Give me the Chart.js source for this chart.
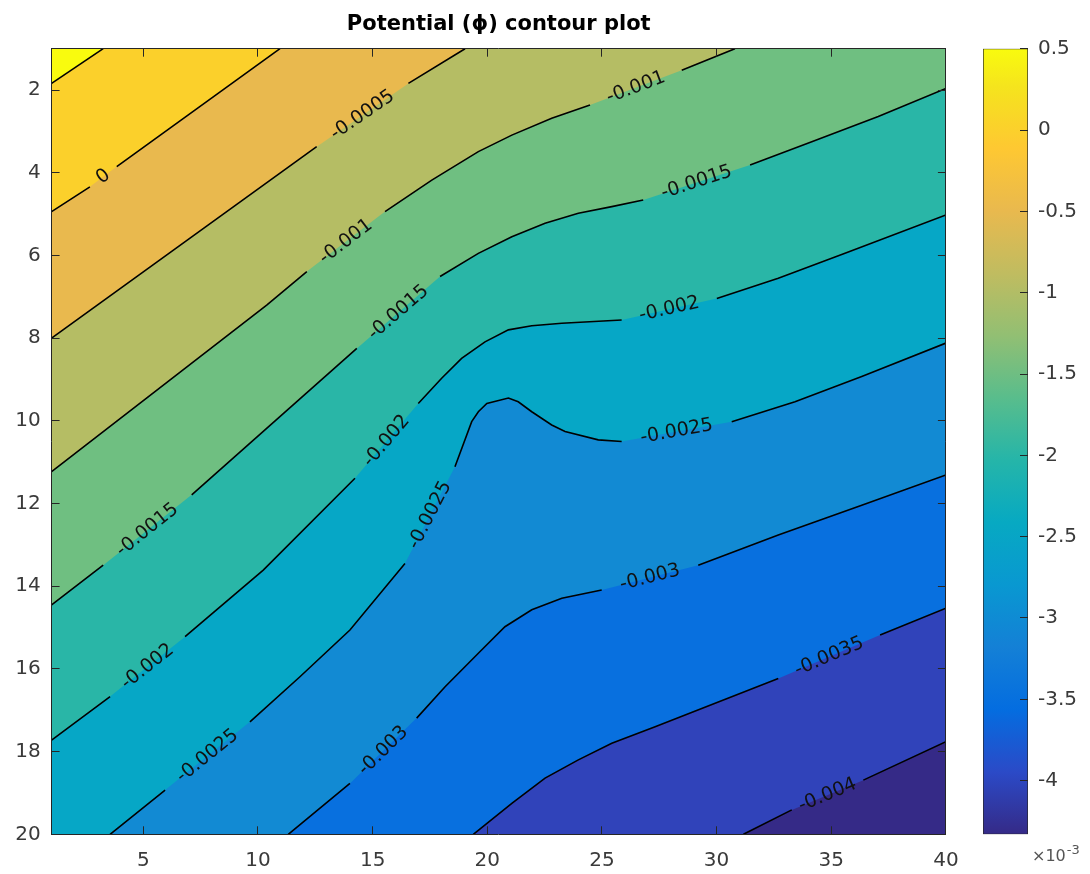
<!DOCTYPE html>
<html>
<head>
<meta charset="utf-8">
<title>Potential contour plot</title>
<script src="https://cdn.jsdelivr.net/npm/chart.js@4.4.1/dist/chart.umd.min.js"></script>
<style>
  html, body { margin: 0; padding: 0; background: #fff; }
  #wrap { position: relative; width: 1090px; height: 874px; }
  #contourChart { position: absolute; left: 0; top: 0; }
  #colorbar { position: absolute; left: 960px; top: 0; }
</style>
</head>
<body>
<div id="wrap">
  <canvas id="contourChart" width="1090" height="874"></canvas>
  <canvas id="colorbar" width="130" height="874"></canvas>
</div>
<script>
// axis ranges and tick labels
const xMin = 1, xMax = 40, yMin = 1, yMax = 20;
const xTicks = [5, 10, 15, 20, 25, 30, 35, 40];
const yTicks = [2, 4, 6, 8, 10, 12, 14, 16, 18, 20];

// colour scale (values x 10^-3)
const cbMin = -4.33, cbMax = 0.5;
const cbTicks = [0.5, 0, -0.5, -1, -1.5, -2, -2.5, -3, -3.5, -4];

// contour levels, lowest first, and the colour of the band just above each one
const levels = [-0.004, -0.0035, -0.003, -0.0025, -0.002, -0.0015, -0.001, -0.0005, 0, 0.0005];
const baseColor = '#352A87';
const bandColors = ['#3043BA', '#0870DF', '#128AD3', '#06A7C6', '#29B6A7',
                    '#6FBF81', '#B5BD64', '#E9B94E', '#FBD02B', '#F9FB0E'];

// contour lines as [x, y]; null marks the gap where the label is written
const cM40 = [[31.17, 20], [33.28, 19.41], null, [36.4, 18.69], [40, 17.76]];
const cM35 = [[19.39, 20], [21.07, 19.25], [22.52, 18.64], [23.97, 18.2], [25.43, 17.8],
              [27.32, 17.4], [32.69, 16.23], null, [37.13, 15.18], [40, 14.53]];
const cM30 = [[11.32, 20], [14.01, 18.77], null, [16.92, 17.19], [18.16, 16.43], [19.61, 15.62],
              [20.77, 14.98], [21.94, 14.57], [23.25, 14.29], [24.99, 14.09], null,
              [29.2, 13.49], [32.69, 12.76], [36.33, 12.04], [40, 11.31]];
const cM25 = [[3.55, 20], [5.95, 18.93], null, [9.65, 17.28], [11.83, 16.19], [14.01, 15.06],
              [16.41, 13.45], null, [18.59, 11.11], [19.32, 10.02], [19.61, 9.78], [19.98, 9.58],
              [20.92, 9.45], [21.35, 9.54], [21.94, 9.78], [22.81, 10.1], [23.39, 10.26],
              [24.84, 10.46], [25.86, 10.5], null, [30.66, 10.02], [33.42, 9.54], [36.33, 8.93], [40, 8.12]];
const cM20 = [[1, 17.72], [3.55, 16.67], null, [6.82, 15.22], [10.23, 13.61], [14.23, 11.39], null,
              [16.99, 9.58], [18.01, 8.97], [18.88, 8.49], [19.9, 8.09], [20.92, 7.8], [21.94, 7.7],
              [23.25, 7.64], [25.86, 7.56], null, [30.01, 7.04], [32.69, 6.55], [35.6, 5.95], [40, 5.02]];
const cM15 = [[1, 14.45], [3.25, 13.49], null, [7.11, 11.79], [14.31, 8.25], null, [17.94, 6.51],
              [19.61, 5.95], [21.07, 5.55], [22.52, 5.22], [23.97, 4.98], [25.43, 4.82], [26.8, 4.66], null,
              [31.46, 3.81], [34.15, 3.25], [37.05, 2.64], [40, 1.96]];
const cM10 = [[1, 11.23], [10.38, 7.2], [12.13, 6.39], null, [15.54, 4.94], [17.58, 4.18], [19.61, 3.49],
              [21.07, 3.09], [22.81, 2.68], [24.48, 2.36], null, [28.48, 1.52], [30.8, 1]];
const cM05 = [[1, 8.0], [12.56, 3.37], null, [16.56, 1.84], [19.03, 1]];
const c00 = [[1, 4.94], [2.67, 4.34], null, [3.84, 3.85], [10.96, 1]];
const cP05 = [[1, 1.84], [3.25, 1]];
const contours = [cM40, cM35, cM30, cM25, cM20, cM15, cM10, cM05, c00, cP05];

// parula colormap stops for the colour bar: [position, colour]
const parulaStops = [[0, '#352A87'], [0.079, '#2B4AC7'], [0.159, '#046DE0'], [0.238, '#1480D6'],
  [0.317, '#0998D1'], [0.397, '#07A9C2'], [0.476, '#25B5A9'], [0.556, '#59BD8C'],
  [0.635, '#92BF73'], [0.714, '#C0BC60'], [0.794, '#E9B94E'], [0.873, '#FEC832'],
  [0.952, '#F5E41D'], [1, '#F9FB0E']];

const axisColor = '#262626';
Chart.defaults.font.family = '"DejaVu Sans", sans-serif';
Chart.defaults.color = '#3a3a3a';

// region above/left of a contour: follow the line, then go round via the top-left corner
function closeShape(c) {
  const pts = c.filter(p => p).map(([x, y]) => ({x, y}));
  const first = pts[0], last = pts[pts.length - 1];
  if (last.x === xMax) pts.push({x: xMax, y: yMin});
  pts.push({x: xMin, y: yMin});
  if (first.y === yMax) pts.push({x: xMin, y: yMax});
  return pts;
}

function linePoints(c) {
  return c.map((p, i) => p ? {x: p[0], y: p[1]} : {x: c[i - 1][0], y: null});
}

const datasets = [{
  data: [{x: xMin, y: yMin}, {x: xMax, y: yMin}, {x: xMax, y: yMax}, {x: xMin, y: yMax}],
  fill: 'shape', backgroundColor: baseColor, borderColor: 'rgba(0,0,0,0)', borderWidth: 0,
  pointRadius: 0, order: 100
}];
contours.forEach((c, k) => {
  datasets.push({
    data: closeShape(c), fill: 'shape', backgroundColor: bandColors[k],
    borderColor: 'rgba(0,0,0,0)', borderWidth: 0, pointRadius: 0, order: 99 - k
  });
});
contours.forEach(c => {
  datasets.push({
    data: linePoints(c), fill: false, borderColor: '#000', borderWidth: 1.6,
    pointRadius: 0, order: 0
  });
});

// inline labels, centred in each gap and turned along the line
const contourLabels = {
  id: 'contourLabels',
  afterDatasetsDraw(chart) {
    const {ctx} = chart;
    const sx = chart.scales.x, sy = chart.scales.y;
    ctx.save();
    ctx.font = '19px "DejaVu Sans"';
    ctx.fillStyle = '#111';
    ctx.textAlign = 'center';
    ctx.textBaseline = 'middle';
    contours.forEach((c, k) => {
      c.forEach((p, i) => {
        if (p) return;
        const a = c[i - 1], b = c[i + 1];
        const x1 = sx.getPixelForValue(a[0]), y1 = sy.getPixelForValue(a[1]);
        const x2 = sx.getPixelForValue(b[0]), y2 = sy.getPixelForValue(b[1]);
        ctx.save();
        ctx.translate((x1 + x2) / 2, (y1 + y2) / 2);
        ctx.rotate(Math.atan2(y2 - y1, x2 - x1));
        ctx.fillText(String(levels[k]), 0, 0);
        ctx.restore();
      });
    });
    ctx.restore();
  }
};

const tickFont = { size: 20 };
const inwardGrid = { drawOnChartArea: false, tickLength: -8, color: axisColor, z: 1 };
const boxBorder = { color: axisColor, z: 1 };

new Chart(document.getElementById('contourChart'), {
  type: 'line',
  data: { datasets },
  plugins: [contourLabels],
  options: {
    responsive: false,
    animation: false,
    events: [],
    layout: { padding: { left: 0, right: 144.1, top: 0, bottom: 0 } },
    plugins: {
      legend: { display: false },
      tooltip: { enabled: false },
      title: {
        display: true,
        text: 'Potential (ϕ) contour plot',
        fullSize: false,
        color: '#000',
        font: { size: 21, weight: 'bold' },
        padding: { top: 11.7, bottom: 11.8 }
      }
    },
    scales: {
      x: {
        type: 'linear', position: 'bottom', min: xMin, max: xMax,
        afterBuildTicks: s => { s.ticks = xTicks.map(v => ({value: v})); },
        afterFit: s => { s.height = 39.7; },
        ticks: { font: tickFont, padding: 22, maxRotation: 0, autoSkip: false },
        grid: inwardGrid,
        border: boxBorder
      },
      x2: {
        type: 'linear', position: 'top', min: xMin, max: xMax,
        afterBuildTicks: s => { s.ticks = xTicks.map(v => ({value: v})); },
        afterFit: s => { s.height = 0; },
        ticks: { callback: () => '', padding: 0 },
        grid: inwardGrid,
        border: boxBorder
      },
      y: {
        type: 'linear', position: 'left', reverse: true, min: yMin, max: yMax,
        afterBuildTicks: s => { s.ticks = yTicks.map(v => ({value: v})); },
        afterFit: s => { s.width = 51.6; },
        ticks: { font: tickFont, padding: 19, autoSkip: false },
        grid: inwardGrid,
        border: boxBorder
      },
      y2: {
        type: 'linear', position: 'right', reverse: true, min: yMin, max: yMax,
        afterBuildTicks: s => { s.ticks = yTicks.map(v => ({value: v})); },
        afterFit: s => { s.width = 0; },
        ticks: { callback: () => '', padding: 0 },
        grid: inwardGrid,
        border: boxBorder
      }
    }
  }
});

// colour bar
const exponentLabel = {
  id: 'exponentLabel',
  afterDraw(chart) {
    const {ctx, chartArea} = chart;
    ctx.save();
    ctx.fillStyle = '#555';
    ctx.textBaseline = 'middle';
    ctx.textAlign = 'left';
    ctx.font = '16px "DejaVu Sans"';
    ctx.fillText('×10', chartArea.right + 4, 857);
    const w = ctx.measureText('×10').width;
    ctx.font = '13px "DejaVu Sans"';
    ctx.fillText('-3', chartArea.right + 5 + w, 851);
    ctx.restore();
  }
};

new Chart(document.getElementById('colorbar'), {
  type: 'bar',
  data: {
    labels: [''],
    datasets: [{
      data: [[cbMin, cbMax]],
      backgroundColor(c) {
        const area = c.chart.chartArea;
        if (!area) return baseColor;
        const g = c.chart.ctx.createLinearGradient(0, area.bottom, 0, area.top);
        parulaStops.forEach(([t, col]) => g.addColorStop(t, col));
        return g;
      },
      borderColor: axisColor,
      borderWidth: 1,
      borderSkipped: false,
      barPercentage: 1,
      categoryPercentage: 1
    }]
  },
  plugins: [exponentLabel],
  options: {
    responsive: false,
    animation: false,
    events: [],
    layout: { padding: { left: 23, right: 0, top: 48.7, bottom: 39.7 } },
    plugins: { legend: { display: false }, tooltip: { enabled: false } },
    scales: {
      x: { display: false },
      y: {
        position: 'right', min: cbMin, max: cbMax,
        afterBuildTicks: s => { s.ticks = cbTicks.map(v => ({value: v})); },
        afterFit: s => { s.width = 62; },
        ticks: { font: tickFont, padding: 18, callback: v => String(v) },
        grid: { drawOnChartArea: false, tickLength: -8, color: axisColor, z: 1 },
        border: { display: false }
      }
    }
  }
});
</script>
</body>
</html>
